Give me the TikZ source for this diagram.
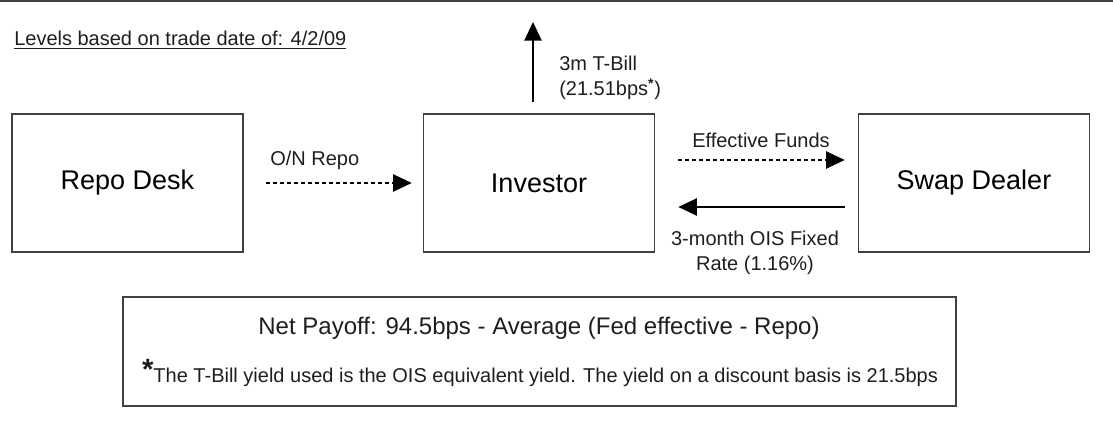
\documentclass[tikz,border=0pt]{standalone}
\usepackage{fontspec}
\setmainfont{Liberation Sans}
\usetikzlibrary{arrows.meta}
\definecolor{edgegray}{HTML}{404040}
\definecolor{inkgray}{HTML}{1E1E1E}

\begin{document}
\begin{tikzpicture}[x=0.75pt, y=-0.75pt,
	party/.style={draw=edgegray, line width=1.2pt, minimum width=173.25pt, minimum height=103.5pt, inner sep=0pt, font=\fontsize{20.25}{24}\selectfont},
	lbl/.style={inner sep=0pt, text=inkgray, font=\fontsize{15}{18.75}\selectfont},
	flow/.style={line width=1.1pt, -{Triangle[length=14pt, width=13pt]}},
	dashflow/.style={flow, dash pattern=on 3pt off 2.25pt}]

	\useasboundingbox (0, 0) rectangle (1113, 423);
	\draw[edgegray, line width=1.5pt] (0, 1) to (1113, 1);

	\node[lbl, anchor=base west] (levels) at(14, 46){\underline{Levels based on trade date of: 4/2/09}};

	\node[party] (repo) at(127.5, 183){Repo Desk};
	\node[party] (investor) at(539, 183){Investor};
	\node[party] (dealer) at(974, 183){Swap Dealer};
	\coordinate (tbill) at(533, 22);

		\draw[flow, shorten <=8.25pt] ([xshift=-4.5pt]investor.north) to (tbill);
		\draw[dashflow, shorten <=16.5pt, shorten >=8.25pt] (repo.east) to (investor.west);
		\draw[dashflow, shorten <=17.25pt, shorten >=9.75pt] ([yshift=17.25pt]investor.east) to ([yshift=17.25pt]dealer.west);
		\draw[flow, shorten <=9.75pt, shorten >=17.25pt] ([yshift=-18pt]dealer.west) to ([yshift=-18pt]investor.east);

	\node[lbl, align=left, anchor=north west] (tbilltext) at(559, 55.5){3m T-Bill\\(21.51bps\textsuperscript{\bfseries *})};
	\node[lbl, anchor=base west] (repotext) at(270, 166){O/N Repo};
	\node[lbl, anchor=base west] (fundstext) at(692, 148){Effective Funds};
	\node[lbl, align=center, anchor=north] (oistext) at(755, 230.5){3-month OIS Fixed\\Rate (1.16\%)};

	\node[draw=edgegray, line width=1.2pt, minimum width=624.75pt, minimum height=81.75pt] (payoff) at(539.5, 351.5){};
		\node[lbl, anchor=base, font=\fontsize{18}{21}\selectfont] (nettext) at(539, 335){Net Payoff: 94.5bps - Average (Fed effective - Repo)};
		\node[lbl, anchor=base] (notetext) at(540, 383){\raisebox{2.5pt}{\fontsize{22}{22}\selectfont\bfseries *}The T-Bill yield used is the OIS equivalent yield. The yield on a discount basis is 21.5bps};

	\end{tikzpicture}
\end{document}
